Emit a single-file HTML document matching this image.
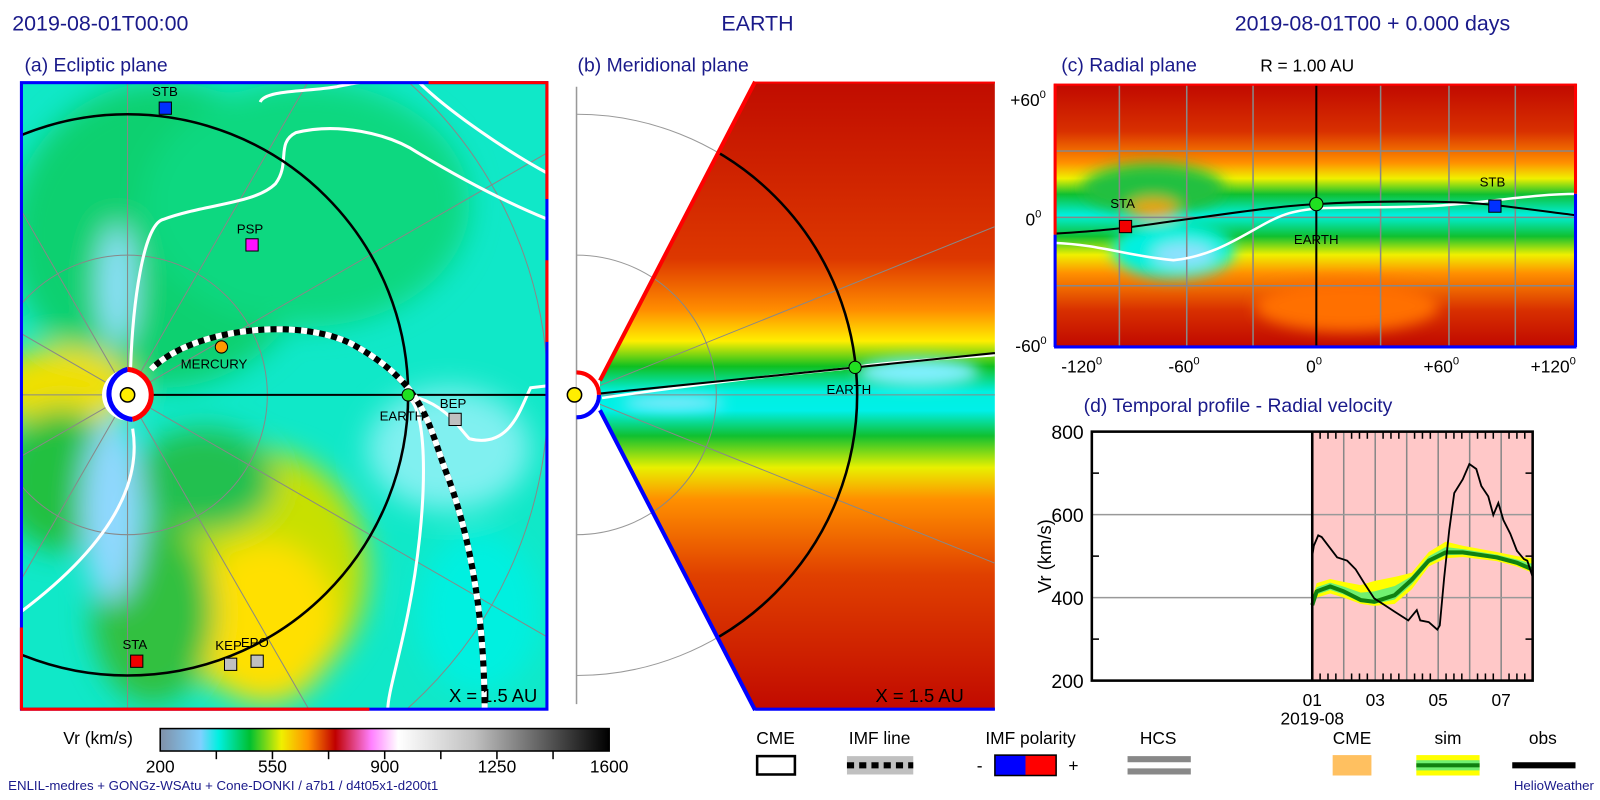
<!DOCTYPE html>
<html><head><meta charset="utf-8"><style>
html,body{margin:0;padding:0;background:#fff;overflow:hidden;width:1600px;height:800px;}
svg{display:block;font-family:"Liberation Sans",sans-serif;}
.nv{fill:#1a1a8a;}
</style></head><body>
<svg id="root" width="1600" height="800" viewBox="0 0 1568 784" xmlns="http://www.w3.org/2000/svg">
<defs>
<filter id="bl" x="-30%" y="-30%" width="160%" height="160%"><feGaussianBlur stdDeviation="14"/></filter>
<filter id="bl2" x="-30%" y="-30%" width="160%" height="160%"><feGaussianBlur stdDeviation="7"/></filter>
<clipPath id="clipA"><rect x="20" y="80" width="517" height="616"/></clipPath>
<clipPath id="clipB"><polygon points="588,372 740,80 975,80 975,696 740,696 588,402"/></clipPath>
<clipPath id="clipC"><rect x="1033" y="82" width="512" height="258"/></clipPath>
<linearGradient id="gB" x1="0" y1="0" x2="0" y2="1">
<stop offset="0" stop-color="#c00c00"/><stop offset="0.28" stop-color="#dd3800"/><stop offset="0.36" stop-color="#ff8c00"/><stop offset="0.41" stop-color="#ffee00"/><stop offset="0.45" stop-color="#10c020"/><stop offset="0.49" stop-color="#00f0e0"/><stop offset="0.52" stop-color="#00f0e8"/><stop offset="0.56" stop-color="#10c030"/><stop offset="0.61" stop-color="#e8f000"/><stop offset="0.66" stop-color="#ff9000"/><stop offset="0.78" stop-color="#e04000"/><stop offset="1" stop-color="#c00800"/>
</linearGradient>
<linearGradient id="gC" x1="0" y1="0" x2="0" y2="1">
<stop offset="0" stop-color="#c00800"/><stop offset="0.18" stop-color="#d83000"/><stop offset="0.3" stop-color="#ff9000"/><stop offset="0.36" stop-color="#f0f000"/><stop offset="0.42" stop-color="#10c030"/><stop offset="0.5" stop-color="#00f0e0"/><stop offset="0.58" stop-color="#10c030"/><stop offset="0.65" stop-color="#f0f000"/><stop offset="0.72" stop-color="#ff9000"/><stop offset="0.86" stop-color="#d83000"/><stop offset="1" stop-color="#c00800"/>
</linearGradient>
<linearGradient id="cbar" x1="0" y1="0" x2="1" y2="0">
<stop offset="0" stop-color="#8090a8"/><stop offset="0.09" stop-color="#80d0ff"/><stop offset="0.13" stop-color="#00f0e0"/><stop offset="0.2" stop-color="#00c030"/><stop offset="0.27" stop-color="#f0f000"/><stop offset="0.33" stop-color="#ff9000"/><stop offset="0.39" stop-color="#c00000"/><stop offset="0.47" stop-color="#ff80ff"/><stop offset="0.53" stop-color="#ffffff"/><stop offset="0.7" stop-color="#c0c0c0"/><stop offset="1" stop-color="#000"/>
</linearGradient>
</defs>

<text x="12" y="30" font-size="21" class="nv">2019-08-01T00:00</text>
<text x="707" y="30" font-size="21" class="nv">EARTH</text>
<text x="1210" y="30" font-size="21" class="nv">2019-08-01T00 +  0.000 days</text>
<text x="24" y="70" font-size="19" class="nv">(a) Ecliptic plane</text>
<text x="566" y="70" font-size="19" class="nv">(b) Meridional plane</text>
<text x="1040" y="70" font-size="19" class="nv">(c) Radial plane</text>
<text x="1235" y="70" font-size="17" fill="#000">R = 1.00 AU</text>

<g id="panelA">
<g clip-path="url(#clipA)">
<rect x="20" y="80" width="517" height="616" fill="#10e8c8"/>
<g filter="url(#bl)">
<ellipse cx="160" cy="230" rx="150" ry="150" fill="#10d070"/>
<ellipse cx="300" cy="200" rx="160" ry="120" fill="#10d880"/>
<ellipse cx="60" cy="380" rx="70" ry="40" fill="#f0e000"/>
<ellipse cx="60" cy="470" rx="60" ry="70" fill="#20c040"/>
<ellipse cx="250" cy="560" rx="110" ry="120" fill="#c8e000"/>
<ellipse cx="260" cy="610" rx="70" ry="80" fill="#ffe000"/>
<ellipse cx="150" cy="600" rx="60" ry="90" fill="#30c040"/>
<ellipse cx="200" cy="470" rx="70" ry="50" fill="#20c050"/>
<ellipse cx="440" cy="440" rx="80" ry="60" fill="#80f0f0"/>
<ellipse cx="470" cy="600" rx="60" ry="80" fill="#00f0e0"/>
<ellipse cx="110" cy="500" rx="30" ry="90" fill="#90d8ff"/>
<ellipse cx="115" cy="280" rx="18" ry="60" fill="#90e0ff"/>
</g>
<g fill="none" stroke="#888" stroke-width="1">
<circle cx="125" cy="387" r="137"/><circle cx="125" cy="387" r="412"/>
<line x1="125" y1="387" x2="125" y2="80"/><line x1="125" y1="387" x2="125" y2="700"/>
<line x1="125" y1="387" x2="20" y2="387"/>
<line x1="125" y1="387" x2="600" y2="113"/><line x1="125" y1="387" x2="600" y2="661"/>
<line x1="125" y1="387" x2="400" y2="-90"/><line x1="125" y1="387" x2="400" y2="864"/>
<line x1="125" y1="387" x2="-150" y2="-90"/><line x1="125" y1="387" x2="-150" y2="864"/>
<line x1="125" y1="387" x2="-350" y2="113"/><line x1="125" y1="387" x2="-350" y2="661"/>
</g>
<g fill="none" stroke="#fff" stroke-width="3">
<path d="M255,100 C260,88 300,90 330,85 C345,82 355,80 365,80"/>
<path d="M128,360 C130,300 140,220 160,215 C200,200 250,200 270,180 C285,160 270,140 290,130 C330,120 380,130 410,150 C460,180 500,200 537,215"/>
<path d="M410,80 C440,110 500,150 537,170"/>
<path d="M130,420 C140,480 100,540 20,600"/>
<path d="M400,390 C420,400 420,500 400,600 C390,650 380,680 380,696"/>
<path d="M410,390 C440,400 450,420 460,430 C500,440 510,400 520,380 L537,378"/>
</g>
<circle cx="125" cy="387" r="275" fill="none" stroke="#000" stroke-width="2.5"/>
<line x1="125" y1="387" x2="537" y2="387" stroke="#000" stroke-width="2"/>
<path d="M148,362 C190,320 300,310 350,340 C420,380 420,420 440,470 C465,540 475,620 475,700" fill="none" stroke="#000" stroke-width="6"/>
<path d="M148,362 C190,320 300,310 350,340 C420,380 420,420 440,470 C465,540 475,620 475,700" fill="none" stroke="#fff" stroke-width="6" stroke-dasharray="6 6"/>
</g>
<rect x="21" y="81" width="515" height="614" fill="none" stroke="#0000ff" stroke-width="3"/>
<line x1="420" y1="81" x2="537" y2="81" stroke="#f00" stroke-width="3"/>
<line x1="536" y1="80" x2="536" y2="195" stroke="#f00" stroke-width="3"/>
<line x1="536" y1="255" x2="536" y2="335" stroke="#f00" stroke-width="3"/>
<line x1="20" y1="695" x2="362" y2="695" stroke="#f00" stroke-width="3"/>
<line x1="21" y1="615" x2="21" y2="695" stroke="#f00" stroke-width="3"/>
<circle cx="125" cy="387" r="25" fill="#fff"/>
<path d="M125,362 A25,25 0 0,0 130,411" fill="none" stroke="#0000ff" stroke-width="5"/>
<path d="M125,362 A25,25 0 0,1 130,411" fill="none" stroke="#f00" stroke-width="5"/>
<circle cx="125" cy="387" r="7" fill="#ffee00" stroke="#000" stroke-width="1.5"/>
<g font-size="13" fill="#000">
<rect x="156" y="100" width="12" height="12" fill="#0030ff" stroke="#000"/><text x="149" y="94">STB</text>
<rect x="241" y="234" width="12" height="12" fill="#ff10ff" stroke="#000"/><text x="232" y="229">PSP</text>
<circle cx="217" cy="340" r="6" fill="#ff9900" stroke="#000"/><text x="177" y="361">MERCURY</text>
<circle cx="400" cy="387" r="6" fill="#20e020" stroke="#000"/><text x="372" y="412">EARTH</text>
<rect x="440" y="405" width="12" height="12" fill="#c0c0c0" stroke="#000"/><text x="431" y="400">BEP</text>
<rect x="128" y="642" width="12" height="12" fill="#f00000" stroke="#000"/><text x="120" y="636">STA</text>
<rect x="220" y="645" width="12" height="12" fill="#c0c0c0" stroke="#000"/><text x="211" y="637">KEP</text>
<rect x="246" y="642" width="12" height="12" fill="#c0c0c0" stroke="#000"/><text x="236" y="634">EPO</text>
</g>
<text x="440" y="688" font-size="18" fill="#000">X = 1.5 AU</text>
</g>

<g id="panelB">
<line x1="565" y1="85" x2="565" y2="690" stroke="#999" stroke-width="1.5"/>
<path d="M565,112 A275,275 0 0,1 565,662" fill="none" stroke="#999" stroke-width="1"/>
<path d="M565,250 A137,137 0 0,1 565,524" fill="none" stroke="#999" stroke-width="1"/>
<g clip-path="url(#clipB)">
<rect x="560" y="80" width="420" height="620" fill="url(#gB)"/>
<g filter="url(#bl2)">
<ellipse cx="900" cy="365" rx="60" ry="14" fill="#80f0ff"/>
<ellipse cx="660" cy="395" rx="50" ry="7" fill="#90e8ff"/>
</g>
<g stroke="#888" stroke-width="1" fill="none">
<line x1="565" y1="387" x2="1000" y2="212"/><line x1="565" y1="387" x2="1000" y2="562"/>
<line x1="565" y1="387" x2="1000" y2="387"/>
<circle cx="565" cy="387" r="137"/>
</g>
<circle cx="565" cy="387" r="275" fill="none" stroke="#000" stroke-width="2.5"/>
<path d="M590,390 C660,380 700,375 760,368 C800,364 830,362 850,358 C900,352 950,350 975,348" fill="none" stroke="#fff" stroke-width="2.5"/>
</g>
<line x1="588" y1="373" x2="740" y2="80" stroke="#f00" stroke-width="4"/>
<line x1="740" y1="81" x2="975" y2="81" stroke="#f00" stroke-width="2"/>
<line x1="588" y1="402" x2="740" y2="696" stroke="#00f" stroke-width="4"/>
<line x1="740" y1="695" x2="975" y2="695" stroke="#00f" stroke-width="3"/>
<line x1="565" y1="388" x2="975" y2="346" stroke="#000" stroke-width="2"/>
<path d="M565,365 A22,22 0 0,1 565,409 Z" fill="#fff"/>
<path d="M565,365 A22,22 0 0,1 587,387" fill="none" stroke="#f00" stroke-width="4"/>
<path d="M587,387 A22,22 0 0,1 565,409" fill="none" stroke="#00f" stroke-width="4"/>
<circle cx="563" cy="387" r="7" fill="#ffee00" stroke="#000" stroke-width="1.5"/>
<circle cx="838" cy="360" r="6" fill="#20e020" stroke="#000"/>
<text x="810" y="386" font-size="13" fill="#000">EARTH</text>
<text x="858" y="688" font-size="18" fill="#000">X = 1.5 AU</text>
</g>

<g id="panelC">
<g clip-path="url(#clipC)">
<rect x="1033" y="82" width="512" height="258" fill="url(#gC)"/>
<g filter="url(#bl2)">
<ellipse cx="1150" cy="245" rx="60" ry="28" fill="#00f0e0"/>
<ellipse cx="1160" cy="250" rx="30" ry="12" fill="#90e0ff"/>
<ellipse cx="1130" cy="185" rx="70" ry="25" fill="#20c040"/>
<ellipse cx="1130" cy="205" rx="25" ry="10" fill="#f0a000"/>
<ellipse cx="1320" cy="300" rx="90" ry="25" fill="#ff7000"/>
</g>
<g stroke="#888" stroke-width="1.5">
<line x1="1097" y1="82" x2="1097" y2="340"/><line x1="1163" y1="82" x2="1163" y2="340"/><line x1="1228" y1="82" x2="1228" y2="340"/>
<line x1="1353" y1="82" x2="1353" y2="340"/><line x1="1420" y1="82" x2="1420" y2="340"/><line x1="1485" y1="82" x2="1485" y2="340"/>
<line x1="1033" y1="148" x2="1545" y2="148"/><line x1="1033" y1="213" x2="1545" y2="213"/><line x1="1033" y1="280" x2="1545" y2="280"/>
</g>
<path d="M1033,238 C1080,240 1100,250 1150,255 C1200,250 1230,220 1260,210 C1290,200 1330,205 1400,202 C1450,200 1500,190 1545,190" fill="none" stroke="#fff" stroke-width="2.5"/>
<line x1="1290" y1="82" x2="1290" y2="340" stroke="#000" stroke-width="2"/>
<path d="M1033,229 C1080,226 1100,224 1140,218 C1200,210 1250,202 1290,200 C1340,197 1420,196 1465,201 C1500,205 1520,208 1545,211" fill="none" stroke="#000" stroke-width="2"/>
</g>
<line x1="1034" y1="82" x2="1034" y2="230" stroke="#f00" stroke-width="3"/>
<line x1="1034" y1="230" x2="1034" y2="340" stroke="#00f" stroke-width="3"/>
<line x1="1544" y1="82" x2="1544" y2="190" stroke="#f00" stroke-width="3"/>
<line x1="1544" y1="190" x2="1544" y2="340" stroke="#00f" stroke-width="3"/>
<line x1="1033" y1="83" x2="1545" y2="83" stroke="#f00" stroke-width="2"/>
<line x1="1033" y1="340" x2="1545" y2="340" stroke="#00f" stroke-width="3"/>
<rect x="1097" y="216" width="12" height="12" fill="#f00000" stroke="#000"/>
<rect x="1459" y="196" width="12" height="12" fill="#0030ff" stroke="#000"/>
<circle cx="1290" cy="200" r="6.5" fill="#20e020" stroke="#000"/>
<g font-size="13" fill="#000"><text x="1088" y="204">STA</text><text x="1450" y="183">STB</text><text x="1268" y="239">EARTH</text></g>
<g font-size="17" fill="#000">
<text x="990" y="104">+60<tspan font-size="11" dy="-8">0</tspan></text>
<text x="1005" y="221">0<tspan font-size="11" dy="-8">0</tspan></text>
<text x="995" y="345">-60<tspan font-size="11" dy="-8">0</tspan></text>
<text x="1040" y="365">-120<tspan font-size="11" dy="-8">0</tspan></text>
<text x="1145" y="365">-60<tspan font-size="11" dy="-8">0</tspan></text>
<text x="1280" y="365">0<tspan font-size="11" dy="-8">0</tspan></text>
<text x="1395" y="365">+60<tspan font-size="11" dy="-8">0</tspan></text>
<text x="1500" y="365">+120<tspan font-size="11" dy="-8">0</tspan></text>
</g>
</g>

<text x="1062" y="404" font-size="19" class="nv">(d) Temporal profile - Radial velocity</text>
<g id="panelD"></g>

<g>
<text x="62" y="729" font-size="17" fill="#000">Vr (km/s)</text>
<rect x="157" y="714" width="440" height="22" fill="url(#cbar)" stroke="#000" stroke-width="1.5"/>
<g stroke="#000" stroke-width="1.5">
<line x1="212" y1="736" x2="212" y2="744"/><line x1="267" y1="736" x2="267" y2="744"/><line x1="322" y1="736" x2="322" y2="744"/><line x1="377" y1="736" x2="377" y2="744"/><line x1="432" y1="736" x2="432" y2="744"/><line x1="487" y1="736" x2="487" y2="744"/><line x1="542" y1="736" x2="542" y2="744"/>
</g>
<g font-size="17" fill="#000" text-anchor="middle"><text x="157" y="757">200</text><text x="267" y="757">550</text><text x="377" y="757">900</text><text x="487" y="757">1250</text><text x="597" y="757">1600</text></g>
</g>
<g font-size="17" fill="#000" text-anchor="middle">
<text x="760" y="729">CME</text><rect x="742" y="741" width="37" height="18" fill="#fff" stroke="#000" stroke-width="2.5"/>
<text x="862" y="729">IMF line</text><rect x="830" y="741" width="65" height="18" fill="#c0c0c0"/><line x1="830" y1="750" x2="895" y2="750" stroke="#000" stroke-width="6" stroke-dasharray="7 5"/>
<text x="1010" y="729">IMF polarity</text><text x="960" y="756">-</text><rect x="975" y="740" width="30" height="20" fill="#00f"/><rect x="1005" y="740" width="30" height="20" fill="#f00"/><rect x="975" y="740" width="60" height="20" fill="none" stroke="#000" stroke-width="1.5"/><text x="1052" y="756">+</text>
<text x="1135" y="729">HCS</text><rect x="1105" y="741" width="62" height="6" fill="#888"/><rect x="1105" y="753" width="62" height="6" fill="#888"/>
<text x="1325" y="729">CME</text><rect x="1306" y="740" width="38" height="20" fill="#ffc060"/>
<text x="1419" y="729">sim</text><rect x="1388" y="740" width="62" height="20" fill="#ffff00"/><rect x="1388" y="745" width="62" height="10" fill="#70f070"/><rect x="1388" y="748" width="62" height="4" fill="#108010"/>
<text x="1512" y="729">obs</text><rect x="1482" y="747" width="62" height="6" fill="#000"/>
</g>
<text x="8" y="774" font-size="13" class="nv">ENLIL-medres + GONGz-WSAtu + Cone-DONKI / a7b1 / d4t05x1-d200t1</text>
<text x="1562" y="774" font-size="13" class="nv" text-anchor="end">HelioWeather</text>
</svg>
<script>
const obsDays=[1.0,1.05,1.19,1.30,1.46,1.79,2.11,2.38,2.65,2.97,3.30,3.62,4.05,4.32,4.43,4.70,4.97,5.05,5.19,5.35,5.51,5.78,5.99,6.21,6.37,6.59,6.75,6.91,7.07,7.29,7.50,7.72,7.83,7.99];
const obsVr=[500,525,550,546,530,497,489,468,435,398,382,366,345,370,345,341,323,333,448,562,652,685,722,710,669,644,599,628,587,554,513,493,489,452];
const simDays=[1.0,1.14,1.57,2.0,2.54,2.97,3.62,4.16,4.70,5.24,5.78,6.86,7.5,7.99];
const simVr=[382,415,427,415,394,390,406,443,489,509,509,497,484,468];
const simUpper=[400,435,445,438,430,440,450,460,510,535,525,510,500,495];
const simLower=[375,400,410,400,385,380,385,420,475,495,498,488,475,460];
const yTicks=[200,400,600,800];
const xTickDays=[1,3,5,7];
const xTickLabels=["01","03","05","07"];
const NS="http://www.w3.org/2000/svg";
const g=document.getElementById('panelD');
const X0=1070,X1=1502,Y0=667,Y1=423,D0=-6,D1=8,V0=200,V1=800;
const sx=d=>X0+(d-D0)/(D1-D0)*(X1-X0);
const sy=v=>Y0-(v-V0)/(V1-V0)*(Y0-Y1);
function mk(tag,attrs){const e=document.createElementNS(NS,tag);for(const k in attrs)e.setAttribute(k,attrs[k]);g.appendChild(e);return e;}
let e;
e=mk('rect',{x:sx(1),y:Y1,width:sx(8)-sx(1),height:Y0-Y1,fill:'#ffc8c8'});


for(let d=2;d<=7;d++){e=mk('line',{x1:sx(d),y1:Y1,x2:sx(d),y2:Y0,stroke:'#888','stroke-width':1.5});


for(let k=1;k<4;k++){mk('line',{x1:sx(d-1+k/4),y1:Y1,x2:sx(d-1+k/4),y2:Y1+7,stroke:'#000','stroke-width':1.5});mk('line',{x1:sx(d-1+k/4),y1:Y0,x2:sx(d-1+k/4),y2:Y0-7,stroke:'#000','stroke-width':1.5});}}
for(let k=1;k<4;k++){mk('line',{x1:sx(7+k/4),y1:Y1,x2:sx(7+k/4),y2:Y1+7,stroke:'#000','stroke-width':1.5});mk('line',{x1:sx(7+k/4),y1:Y0,x2:sx(7+k/4),y2:Y0-7,stroke:'#000','stroke-width':1.5});}
[400,600].forEach(v=>{e=mk('line',{x1:X0,y1:sy(v),x2:X1,y2:sy(v),stroke:'#999','stroke-width':1.5});

});
[300,500,700].forEach(v=>{mk('line',{x1:X0,y1:sy(v),x2:X0+7,y2:sy(v),stroke:'#000','stroke-width':1.5});mk('line',{x1:X1,y1:sy(v),x2:X1-7,y2:sy(v),stroke:'#000','stroke-width':1.5});});
let bp='M'+simDays.map((d,i)=>sx(d)+','+sy(simUpper[i])).join(' L');
for(let i=simDays.length-1;i>=0;i--)bp+=' L'+sx(simDays[i])+','+sy(simLower[i]);
e=mk('path',{d:bp+'Z',fill:'#ffff00'});


let ip='M'+simDays.map((d,i)=>sx(d)+','+sy(simVr[i]+(simUpper[i]-simVr[i])*0.5)).join(' L');
for(let i=simDays.length-1;i>=0;i--)ip+=' L'+sx(simDays[i])+','+sy(simVr[i]-(simVr[i]-simLower[i])*0.5);
e=mk('path',{d:ip+'Z',fill:'#70f070'});


e=mk('polyline',{points:simDays.map((d,i)=>sx(d)+','+sy(simVr[i])).join(' '),fill:'none',stroke:'#108010','stroke-width':4,'stroke-linejoin':'round'});


e=mk('polyline',{points:obsDays.map((d,i)=>sx(d)+','+sy(obsVr[i])).join(' '),fill:'none',stroke:'#000','stroke-width':1.8});


e=mk('line',{x1:sx(1),y1:Y1,x2:sx(1),y2:Y0,stroke:'#000','stroke-width':2.5});


e=mk('rect',{x:X0,y:Y1,width:X1-X0,height:Y0-Y1,fill:'none',stroke:'#000','stroke-width':2.5});


yTicks.forEach(v=>{e=mk('text',{x:X0-8,y:sy(v)+7,'font-size':19,'text-anchor':'end',fill:'#000'});e.textContent=v;

});
xTickDays.forEach((d,i)=>{e=mk('text',{x:sx(d),y:Y0+25,'font-size':17,'text-anchor':'middle',fill:'#000'});e.textContent=xTickLabels[i];

});
e=mk('text',{x:sx(1),y:Y0+43,'font-size':17,'text-anchor':'middle',fill:'#000'});e.textContent='2019-08';


e=mk('text',{x:1030,y:545,'font-size':18,'text-anchor':'middle',fill:'#000',transform:'rotate(-90 1030 545)'});e.textContent='Vr (km/s)';


</script>
</body></html>
